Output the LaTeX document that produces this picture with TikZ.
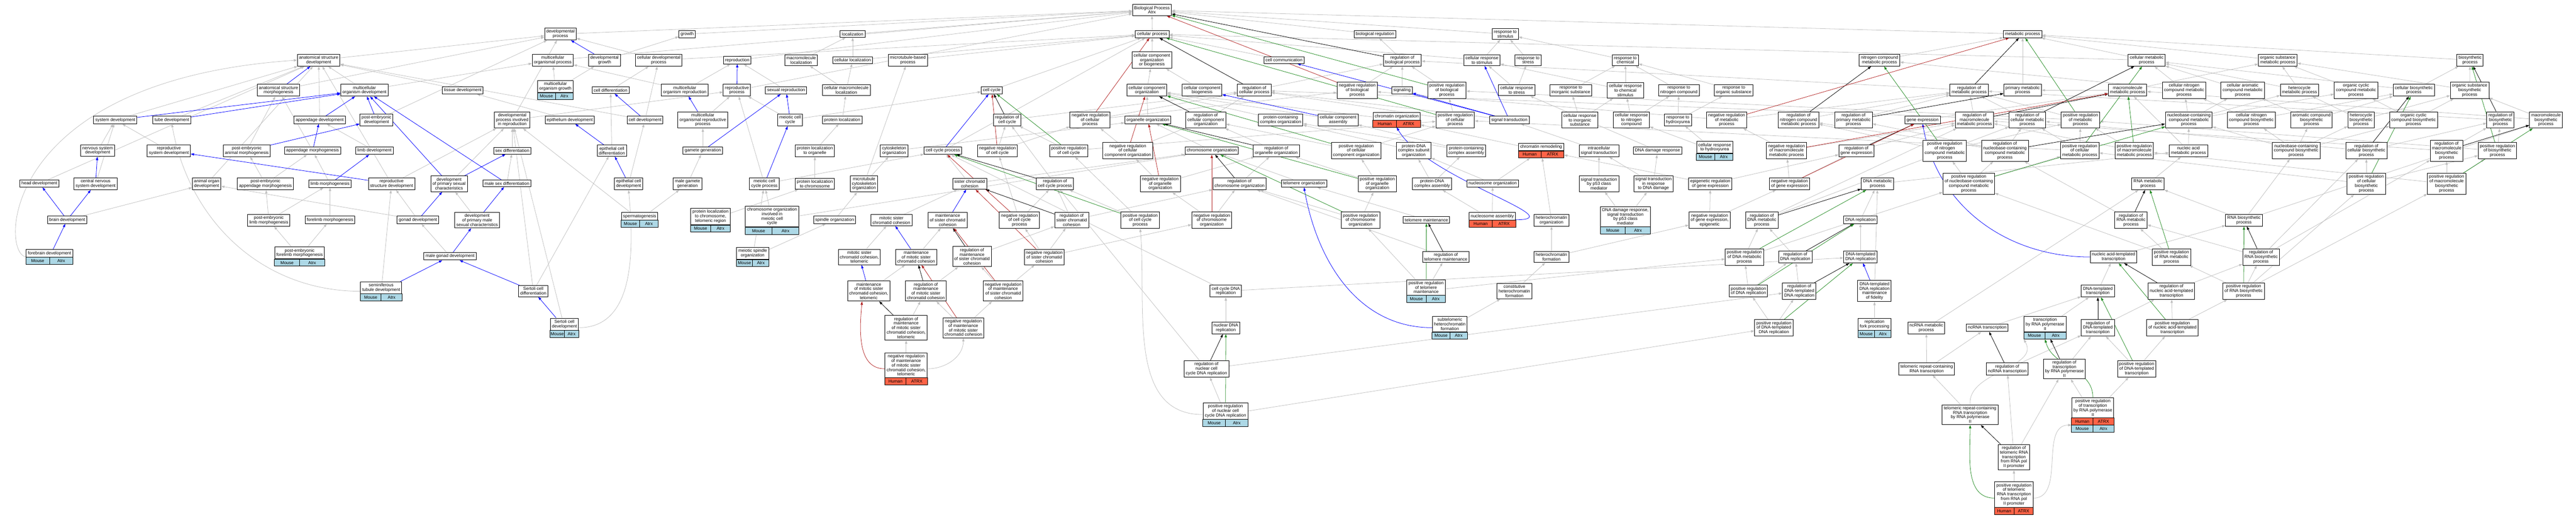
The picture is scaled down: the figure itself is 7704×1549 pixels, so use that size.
\documentclass[tikz,border=0pt]{standalone}
\usepackage{fontspec}
\setmainfont{Liberation Sans}
\usetikzlibrary{arrows.meta,calc,fit}
\definecolor{isagray}{HTML}{C0C0C0}
\definecolor{negred}{HTML}{B22222}
\definecolor{posgreen}{HTML}{228B22}
\definecolor{mouseblue}{HTML}{ADD8E6}
\definecolor{humanred}{HTML}{FF6347}
\pgfdeclarelayer{edgelayer}
\pgfsetlayers{edgelayer,main}
\tikzset{
  myterm/.style={draw,line width=1.5pt,fill=white,align=center,inner xsep=5pt,inner ysep=5pt,font=\fontsize{13}{13.5}\selectfont},
  mygenes/.style={draw,line width=1.5pt},
  mygenetext/.style={font=\fontsize{13}{13.5}\selectfont,inner sep=0pt},
  myedge/.style={line width=1.2pt,-{Triangle[length=10pt,width=7pt]}},
  myisa/.style={myedge,color=isagray},
  mypart/.style={myedge,color=blue},
  myreg/.style={myedge,color=black},
  myneg/.style={myedge,color=negred},
  mypos/.style={myedge,color=posgreen}
}
% one row of the gene table under a term: node, row, colour, species, gene
\newcommand{\generow}[5]{%
  \draw[mygenes,fill=#3] ([yshift=-#2*21pt]#1-l.south west) rectangle ([yshift=-#2*21pt-21pt]#1-l.south);
  \draw[mygenes,fill=#3] ([yshift=-#2*21pt]#1-l.south) rectangle ([yshift=-#2*21pt-21pt]#1-l.south east);
  \node[mygenetext] at ($([yshift=-#2*21pt]#1-l.south west)!.5!([yshift=-#2*21pt-21pt]#1-l.south)$) {#4};
  \node[mygenetext] at ($([yshift=-#2*21pt]#1-l.south)!.5!([yshift=-#2*21pt-21pt]#1-l.south east)$) {#5};
  \coordinate (#1-end) at ([yshift=-#2*21pt-21pt]#1-l.south east);
}
\newcommand{\annotfit}[1]{\node[fit=(#1-l)(#1-end),inner sep=0pt] (#1) {};}

\begin{document}
\begin{tikzpicture}[x=1pt,y=-1pt]
\useasboundingbox (0,0) rectangle (7704,1549);

% top
\node[myterm] (bp) at (3445,30) {Biological Process\\Atrx};
\node[myterm] (devproc) at (1676,102) {developmental\\process};
\node[myterm] (growth) at (2055,102) {growth};
\node[myterm] (local) at (2550,102) {localization};
\node[myterm] (cellproc) at (3446,102) {cellular process};
\node[myterm] (bioreg) at (4112,102) {biological regulation};
\node[myterm] (respstim) at (4502,102) {response to\\stimulus};
\node[myterm] (metab) at (6049,102) {metabolic process};

% rank 180
\node[myterm] (asdev) at (953,180) {anatomical structure\\development};
\node[myterm] (mcop) at (1653,180) {multicellular\\organismal process};
\node[myterm] (devgrowth) at (1808,180) {developmental\\growth};
\node[myterm] (celldevproc) at (1970,180) {cellular developmental\\process};
\node[myterm] (repro) at (2205,180) {reproduction};
\node[myterm] (mmloc) at (2396,180) {macromolecule\\localization};
\node[myterm] (cellloc) at (2550,180) {cellular localization};
\node[myterm] (mtbp) at (2715,180) {microtubule-based\\process};
\node[myterm] (ccob) at (3445,180) {cellular component\\organization\\or biogenesis};
\node[myterm] (cellcomm) at (3840,180) {cell communication};
\node[myterm] (regbp) at (4194,180) {regulation of\\biological process};
\node[myterm] (cellrespstim) at (4432,180) {cellular response\\to stimulus};
\node[myterm] (respstress) at (4570,180) {response to\\stress};
\node[myterm] (respchem) at (4861,180) {response to\\chemical};
\node[myterm] (ncmp) at (5621,180) {nitrogen compound\\metabolic process};
\node[myterm] (cellmetab) at (6420,180) {cellular metabolic\\process};
\node[myterm] (osmp) at (6812,180) {organic substance\\metabolic process};
\node[myterm] (biosyn) at (7387,180) {biosynthetic\\process};

% rank 270
\node[myterm] (asmorph) at (833,270) {anatomical structure\\morphogenesis};
\node[myterm] (mcodev) at (1090,270) {multicellular\\organism development};
\node[myterm] (mcogrowth-l) at (1661,259) {multicellular\\organism growth};
\generow{mcogrowth}{0}{mouseblue}{Mouse}{Atrx}\annotfit{mcogrowth}
\node[myterm] (tissuedev) at (1384,270) {tissue development};
\node[myterm] (celldiff) at (1826,270) {cell differentiation};
\node[myterm] (mcorepro) at (2048,270) {multicellular\\organism reproduction};
\node[myterm] (reproproc) at (2204,270) {reproductive\\process};
\node[myterm] (sexrepro) at (2351,270) {sexual reproduction};
\node[myterm] (cmmloc) at (2531,270) {cellular macromolecule\\localization};
\node[myterm] (cellcycle) at (2966,270) {cell cycle};
\node[myterm] (cco) at (3430,270) {cellular component\\organization};
\node[myterm] (ccbio) at (3595,270) {cellular component\\biogenesis};
\node[myterm] (regcp) at (3751,270) {regulation of\\cellular process};
\node[myterm] (negregbp) at (4059,270) {negative regulation\\of biological\\process};
\node[myterm] (signaling) at (4193,270) {signaling};
\node[myterm] (posregbp) at (4327,270) {positive regulation\\of biological\\process};
\node[myterm] (cellrespstress) at (4536,270) {cellular response\\to stress};
\node[myterm] (respinorg) at (4698,270) {response to\\inorganic substance};
\node[myterm] (cellrespchem) at (4861,270) {cellular response\\to chemical\\stimulus};
\node[myterm] (respnitro) at (5021,270) {response to\\nitrogen compound};
\node[myterm] (resporg) at (5185,270) {response to\\organic substance};
\node[myterm] (regmetab) at (5889,270) {regulation of\\metabolic process};
\node[myterm] (primmetab) at (6049,270) {primary metabolic\\process};
\node[myterm] (mmmetab) at (6363,270) {macromolecule\\metabolic process};
\node[myterm] (cncmp) at (6532,270) {cellular nitrogen\\compound metabolic\\process};
\node[myterm] (cacmp) at (6707,270) {cellular aromatic\\compound metabolic\\process};
\node[myterm] (hetmetab) at (6877,270) {heterocycle\\metabolic process};
\node[myterm] (occmp) at (7046,270) {organic cyclic\\compound metabolic\\process};
\node[myterm] (cellbiosyn) at (7219,270) {cellular biosynthetic\\process};
\node[myterm] (osbiosyn) at (7386,270) {organic substance\\biosynthetic\\process};

% rank 359
\node[myterm] (sysdev) at (345,359) {system development};
\node[myterm] (tubedev) at (514,359) {tube development};
\node[myterm] (appdev) at (956,359) {appendage development};
\node[myterm] (pedev) at (1126,359) {post-embryonic\\development};
\node[myterm] (dpir) at (1532,359) {developmental\\process involved\\in reproduction};
\node[myterm] (epidev) at (1704,359) {epithelium development};
\node[myterm] (celldev) at (1929,359) {cell development};
\node[myterm] (mcrp) at (2102,359) {multicellular\\organismal reproductive\\process};
\node[myterm] (meicc) at (2363,359) {meiotic cell\\cycle};
\node[myterm] (protloc) at (2519,359) {protein localization};
\node[myterm] (regcc) at (3012,359) {regulation of\\cell cycle};
\node[myterm] (negregcp) at (3260,359) {negative regulation\\of cellular\\process};
\node[myterm] (orgorg) at (3433,359) {organelle organization};
\node[myterm] (regcco) at (3606,359) {regulation of\\cellular component\\organization};
\node[myterm] (pcco) at (3830,359) {protein-containing\\complex organization};
\node[myterm] (ccassem) at (4002,359) {cellular component\\assembly};
\node[myterm] (chromorg-l) at (4177,348) {chromatin organization};
\generow{chromorg}{0}{humanred}{Human}{ATRX}\annotfit{chromorg}
\node[myterm] (posregcp) at (4352,359) {positive regulation\\of cellular\\process};
\node[myterm] (sigtrans) at (4514,359) {signal transduction};
\node[myterm] (cellrespinorg) at (4725,359) {cellular response\\to inorganic\\substance};
\node[myterm] (cellrespnitro) at (4879,359) {cellular response\\to nitrogen\\compound};
\node[myterm] (resphu) at (5018,359) {response to\\hydroxyurea};
\node[myterm] (negregmetab) at (5164,359) {negative regulation\\of metabolic\\process};
\node[myterm] (regncmp) at (5379,359) {regulation of\\nitrogen compound\\metabolic process};
\node[myterm] (regprim) at (5543,359) {regulation of\\primary metabolic\\process};
\node[myterm] (geneexp) at (5750,359) {gene expression};
\node[myterm] (regmm) at (5905,359) {regulation of\\macromolecule\\metabolic process};
\node[myterm] (regcellmetab) at (6063,359) {regulation of\\cellular metabolic\\process};
\node[myterm] (posregmetab) at (6222,359) {positive regulation\\of metabolic\\process};
\node[myterm] (nbcmp) at (6546,359) {nucleobase-containing\\compound metabolic\\process};
\node[myterm] (cncbp) at (6733,359) {cellular nitrogen\\compound biosynthetic\\process};
\node[myterm] (acbp) at (6913,359) {aromatic compound\\biosynthetic\\process};
\node[myterm] (hetbiosyn) at (7061,359) {heterocycle\\biosynthetic\\process};
\node[myterm] (occbp) at (7218,359) {organic cyclic\\compound biosynthetic\\process};
\node[myterm] (regbiosyn) at (7478,359) {regulation of\\biosynthetic\\process};
\node[myterm] (mmbiosyn) at (7614,359) {macromolecule\\biosynthetic\\process};

% rank 451
\node[myterm] (nsdev) at (292,451) {nervous system\\development};
\node[myterm] (rsdev) at (505,451) {reproductive\\system development};
\node[myterm] (peamorph) at (738,451) {post-embryonic\\animal morphogenesis};
\node[myterm] (appmorph) at (935,451) {appendage morphogenesis};
\node[myterm] (limbdev) at (1120,451) {limb development};
\node[myterm] (sexdiff) at (1532,451) {sex differentiation};
\node[myterm] (epicelldiff) at (1830,451) {epithelial cell\\differentiation};
\node[myterm] (gamgen) at (2102,451) {gamete generation};
\node[myterm] (protlocorg) at (2437,451) {protein localization\\to organelle};
\node[myterm] (cytoorg) at (2674,451) {cytoskeleton\\organization};
\node[myterm] (ccproc) at (2820,451) {cell cycle process};
\node[myterm] (negregcc) at (2983,451) {negative regulation\\of cell cycle};
\node[myterm] (posregcc) at (3196,451) {positive regulation\\of cell cycle};
\node[myterm] (negregcco) at (3373,451) {negative regulation\\of cellular\\component organization};
\node[myterm] (chromoorg) at (3624,451) {chromosome organization};
\node[myterm] (regorgorg) at (3817,451) {regulation of\\organelle organization};
\node[myterm] (posregcco) at (4056,451) {positive regulation\\of cellular\\component organization};
\node[myterm] (pdnacso) at (4228,451) {protein-DNA\\complex subunit\\organization};
\node[myterm] (pcca) at (4385,451) {protein-containing\\complex assembly};
\node[myterm] (chromrem-l) at (4609,440) {chromatin remodeling};
\generow{chromrem}{0}{humanred}{Human}{ATRX}\annotfit{chromrem}
\node[myterm] (intrasig) at (4782,451) {intracellular\\signal transduction};
\node[myterm] (dnadamage) at (4957,451) {DNA damage response};
\node[myterm] (cellresphu-l) at (5128,441) {cellular response\\to hydroxyurea};
\generow{cellresphu}{0}{mouseblue}{Mouse}{Atrx}\annotfit{cellresphu}
\node[myterm] (negregmm) at (5343,451) {negative regulation\\of macromolecule\\metabolic process};
\node[myterm] (reggeneexp) at (5552,451) {regulation of\\gene expression};
\node[myterm] (posregncmp) at (5816,451) {positive regulation\\of nitrogen\\compound metabolic\\process};
\node[myterm] (regnbcmp) at (5996,451) {regulation of\\nucleobase-containing\\compound metabolic\\process};
\node[myterm] (posregcellmetab) at (6220,451) {positive regulation\\of cellular\\metabolic process};
\node[myterm] (posregmm) at (6383,451) {positive regulation\\of macromolecule\\metabolic process};
\node[myterm] (nametab) at (6545,451) {nucleic acid\\metabolic process};
\node[myterm] (nbcbp) at (6867,451) {nucleobase-containing\\compound biosynthetic\\process};
\node[myterm] (regcellbiosyn) at (7077,451) {regulation of\\cellular biosynthetic\\process};
\node[myterm] (regmmbiosyn) at (7317,451) {regulation of\\macromolecule\\biosynthetic\\process};
\node[myterm] (posregbiosyn) at (7469,451) {positive regulation\\of biosynthetic\\process};

% rank 550
\node[myterm] (headdev) at (118,549) {head development};
\node[myterm] (cnsdev) at (286,550) {central nervous\\system development};
\node[myterm] (aodev) at (618,550) {animal organ\\development};
\node[myterm] (peappmorph) at (794,550) {post-embryonic\\appendage morphogenesis};
\node[myterm] (limbmorph) at (987,550) {limb morphogenesis};
\node[myterm] (rstdev) at (1171,550) {reproductive\\structure development};
\node[myterm] (dpsc) at (1343,550) {development\\of primary sexual\\characteristics};
\node[myterm] (malesexdiff) at (1516,549) {male sex differentiation};
\node[myterm] (epicelldev) at (1880,550) {epithelial cell\\development};
\node[myterm] (malegamgen) at (2056,550) {male gamete\\generation};
\node[myterm] (meiccp) at (2286,550) {meiotic cell\\cycle process};
\node[myterm] (protlocchr) at (2437,550) {protein localization\\to chromosome};
\node[myterm] (mtcyto) at (2584,550) {microtubule\\cytoskeleton\\organization};
\node[myterm] (scc) at (2900,550) {sister chromatid\\cohesion};
\node[myterm] (regccp) at (3155,550) {regulation of\\cell cycle process};
\node[myterm] (negregorgorg) at (3470,550) {negative regulation\\of organelle\\organization};
\node[myterm] (regchromo) at (3707,550) {regulation of\\chromosome organization};
\node[myterm] (telorg) at (3900,549) {telomere organization};
\node[myterm] (posregorgorg) at (4119,550) {positive regulation\\of organelle\\organization};
\node[myterm] (pdnaca) at (4283,550) {protein-DNA\\complex assembly};
\node[myterm] (nucorg) at (4464,549) {nucleosome organization};
\node[myterm] (sigp53) at (4782,550) {signal transduction\\by p53 class\\mediator};
\node[myterm] (sigdna) at (4945,550) {signal transduction\\in response\\to DNA damage};
\node[myterm] (epireg) at (5115,550) {epigenetic regulation\\of gene expression};
\node[myterm] (negreggeneexp) at (5352,550) {negative regulation\\of gene expression};
\node[myterm] (dnametab) at (5615,550) {DNA metabolic\\process};
\node[myterm] (posregnbcmp) at (5888,550) {positive regulation\\of nucleobase-containing\\compound metabolic\\process};
\node[myterm] (rnametab) at (6424,550) {RNA metabolic\\process};
\node[myterm] (posregcellbiosyn) at (7077,550) {positive regulation\\of cellular\\biosynthetic\\process};
\node[myterm] (posregmmbiosyn) at (7317,550) {positive regulation\\of macromolecule\\biosynthetic\\process};

% rank 659
\node[myterm] (braindev) at (201,658) {brain development};
\node[myterm] (pelimbmorph) at (804,659) {post-embryonic\\limb morphogenesis};
\node[myterm] (forelimbmorph) at (987,658) {forelimb morphogenesis};
\node[myterm] (gonaddev) at (1250,658) {gonad development};
\node[myterm] (dpmsc) at (1427,659) {development\\of primary male\\sexual characteristics};
\node[myterm] (spermato-l) at (1913,647) {spermatogenesis};
\generow{spermato}{0}{mouseblue}{Mouse}{Atrx}\annotfit{spermato}
\node[myterm] (plctr-l) at (2125,648) {protein localization\\to chromosome,\\telomeric region};
\generow{plctr}{0}{mouseblue}{Mouse}{Atrx}\annotfit{plctr}
\node[myterm] (coimcc-l) at (2309,648) {chromosome organization\\involved in\\meiotic cell\\cycle};
\generow{coimcc}{0}{mouseblue}{Mouse}{Atrx}\annotfit{coimcc}
\node[myterm] (spindleorg) at (2496,658) {spindle organization};
\node[myterm] (msccoh) at (2666,659) {mitotic sister\\chromatid cohesion};
\node[myterm] (mainscc) at (2834,659) {maintenance\\of sister chromatid\\cohesion};
\node[myterm] (negregccp) at (3049,659) {negative regulation\\of cell cycle\\process};
\node[myterm] (regscc) at (3205,659) {regulation of\\sister chromatid\\cohesion};
\node[myterm] (posregccp) at (3410,659) {positive regulation\\of cell cycle\\process};
\node[myterm] (negregchromo) at (3624,659) {negative regulation\\of chromosome\\organization};
\node[myterm] (posregchromo) at (4069,659) {positive regulation\\of chromosome\\organization};
\node[myterm] (telmaint) at (4266,658) {telomere maintenance};
\node[myterm] (nucassem-l) at (4463,647) {nucleosome assembly};
\generow{nucassem}{0}{humanred}{Human}{ATRX}\annotfit{nucassem}
\node[myterm] (hetorg) at (4640,659) {heterochromatin\\organization};
\node[myterm] (dnap53-l) at (4861,648) {DNA damage response,\\signal transduction\\by p53 class\\mediator};
\generow{dnap53}{0}{mouseblue}{Mouse}{Atrx}\annotfit{dnap53}
\node[myterm] (negregepi) at (5113,659) {negative regulation\\of gene expression,\\epigenetic};
\node[myterm] (regdnametab) at (5269,659) {regulation of\\DNA metabolic\\process};
\node[myterm] (dnarep) at (5564,658) {DNA replication};
\node[myterm] (regrnametab) at (6373,659) {regulation of\\RNA metabolic\\process};
\node[myterm] (rnabiosyn) at (6711,659) {RNA biosynthetic\\process};

% rank 769
\node[myterm] (forebrain-l) at (148,758) {forebrain development};
\generow{forebrain}{0}{mouseblue}{Mouse}{Atrx}\annotfit{forebrain}
\node[myterm] (peforelimb-l) at (896,757) {post-embryonic\\forelimb morphogenesis};
\generow{peforelimb}{0}{mouseblue}{Mouse}{Atrx}\annotfit{peforelimb}
\node[myterm] (malegonad) at (1346,767) {male gonad development};
\node[myterm] (meispindle-l) at (2251,758) {meiotic spindle\\organization};
\generow{meispindle}{0}{mouseblue}{Mouse}{Atrx}\annotfit{meispindle}
\node[myterm] (mscctel) at (2570,769) {mitotic sister\\chromatid cohesion,\\telomeric};
\node[myterm] (mainmscc) at (2740,769) {maintenance\\of mitotic sister\\chromatid cohesion};
\node[myterm] (regmainscc) at (2907,768) {regulation of\\maintenance\\of sister chromatid\\cohesion};
\node[myterm] (negregscc) at (3123,769) {negative regulation\\of sister chromatid\\cohesion};
\node[myterm] (regtelmaint) at (4324,769) {regulation of\\telomere maintenance};
\node[myterm] (hetform) at (4640,769) {heterochromatin\\formation};
\node[myterm] (posregdnametab) at (5217,769) {positive regulation\\of DNA metabolic\\process};
\node[myterm] (regdnarep) at (5369,769) {regulation of\\DNA replication};
\node[myterm] (dnatdnarep) at (5564,769) {DNA-templated\\DNA replication};
\node[myterm] (natrans) at (6321,769) {nucleic acid-templated\\transcription};
\node[myterm] (posregrnametab) at (6494,769) {positive regulation\\of RNA metabolic\\process};
\node[myterm] (regrnabiosyn) at (6762,769) {regulation of\\RNA biosynthetic\\process};

% rank 871
\node[myterm] (semitub-l) at (1140,861) {seminiferous\\tubule development};
\generow{semitub}{0}{mouseblue}{Mouse}{Atrx}\annotfit{semitub}
\node[myterm] (sertdiff) at (1595,871) {Sertoli cell\\differentiation};
\node[myterm] (mainmscctel) at (2598,871) {maintenance\\of mitotic sister\\chromatid cohesion,\\telomeric};
\node[myterm] (regmainmscc) at (2769,871) {regulation of\\maintenance\\of mitotic sister\\chromatid cohesion};
\node[myterm] (negregmainscc) at (3000,871) {negative regulation\\of maintenance\\of sister chromatid\\cohesion};
\node[myterm] (ccdnarep) at (3666,871) {cell cycle DNA\\replication};
\node[myterm] (posregtelmaint-l) at (4265,860) {positive regulation\\of telomere\\maintenance};
\generow{posregtelmaint}{0}{mouseblue}{Mouse}{Atrx}\annotfit{posregtelmaint}
\node[myterm] (consthet) at (4529,871) {constitutive\\heterochromatin\\formation};
\node[myterm] (posregdnarep) at (5229,871) {positive regulation\\of DNA replication};
\node[myterm] (regdnatdnarep) at (5381,871) {regulation of\\DNA-templated\\DNA replication};
\node[myterm] (fidelity) at (5606,871) {DNA-templated\\DNA replication\\maintenance\\of fidelity};
\node[myterm] (dnattrans) at (6274,871) {DNA-templated\\transcription};
\node[myterm] (regnatrans) at (6494,871) {regulation of\\nucleic acid-templated\\transcription};
\node[myterm] (posregrnabiosyn) at (6710,871) {positive regulation\\of RNA biosynthetic\\process};

% rank 981
\node[myterm] (sertdev-l) at (1688,970) {Sertoli cell\\development};
\generow{sertdev}{0}{mouseblue}{Mouse}{Atrx}\annotfit{sertdev}
\node[myterm] (regmainmscctel) at (2710,981) {regulation of\\maintenance\\of mitotic sister\\chromatid cohesion,\\telomeric};
\node[myterm] (negregmainmscc) at (2881,981) {negative regulation\\of maintenance\\of mitotic sister\\chromatid cohesion};
\node[myterm] (nucdnarep) at (3666,981) {nuclear DNA\\replication};
\node[myterm] (subtelhet-l) at (4336,970) {subtelomeric\\heterochromatin\\formation};
\generow{subtelhet}{0}{mouseblue}{Mouse}{Atrx}\annotfit{subtelhet}
\node[myterm] (posregdnatdnarep) at (5305,981) {positive regulation\\of DNA-templated\\DNA replication};
\node[myterm] (forkproc-l) at (5606,970) {replication\\fork processing};
\generow{forkproc}{0}{mouseblue}{Mouse}{Atrx}\annotfit{forkproc}
\node[myterm] (ncrnametab) at (5761,981) {ncRNA metabolic\\process};
\node[myterm] (ncrnatrans) at (5943,981) {ncRNA transcription};
\node[myterm] (rnapol2-l) at (6116,970) {transcription\\by RNA polymerase\\II};
\generow{rnapol2}{0}{mouseblue}{Mouse}{Atrx}\annotfit{rnapol2}
\node[myterm] (regdnattrans) at (6274,981) {regulation of\\DNA-templated\\transcription};
\node[myterm] (posregnatrans) at (6497,981) {positive regulation\\of nucleic acid-templated\\transcription};

% rank 1104
\node[myterm] (negregmainmscctel-l) at (2710,1093) {negative regulation\\of maintenance\\of mitotic sister\\chromatid cohesion,\\telomeric};
\generow{negregmainmscctel}{0}{humanred}{Human}{ATRX}\annotfit{negregmainmscctel}
\node[myterm] (regnucccdnarep) at (3608,1104) {regulation of\\nuclear cell\\cycle DNA replication};
\node[myterm] (terratrans) at (5762,1104) {telomeric repeat-containing\\RNA transcription};
\node[myterm] (regncrnatrans) at (6003,1104) {regulation of\\ncRNA transcription};
\node[myterm] (regrnapol2) at (6174,1104) {regulation of\\transcription\\by RNA polymerase\\II};
\node[myterm] (posregdnattrans) at (6390,1104) {positive regulation\\of DNA-templated\\transcription};

% bottom ranks
\node[myterm] (posregnucccdnarep-l) at (3665,1230) {positive regulation\\of nuclear cell\\cycle DNA replication};
\generow{posregnucccdnarep}{0}{mouseblue}{Mouse}{Atrx}\annotfit{posregnucccdnarep}
\node[myterm] (terrapol2) at (5892,1241) {telomeric repeat-containing\\RNA transcription\\by RNA polymerase\\II};
\node[myterm] (posregrnapol2-l) at (6259,1220) {positive regulation\\of transcription\\by RNA polymerase\\II};
\generow{posregrnapol2}{0}{humanred}{Human}{ATRX}
\generow{posregrnapol2}{1}{mouseblue}{Mouse}{Atrx}\annotfit{posregrnapol2}
\node[myterm] (regterra) at (6023,1368) {regulation of\\telomeric RNA\\transcription\\from RNA pol\\II promoter};
\node[myterm] (posregterra-l) at (6023,1480) {positive regulation\\of telomeric\\RNA transcription\\from RNA pol\\II promoter};
\generow{posregterra}{0}{humanred}{Human}{ATRX}\annotfit{posregterra}

\begin{pgfonlayer}{edgelayer}
% is a
\foreach \src/\dst in {devproc/bp,growth/bp,local/bp,cellproc/bp,bioreg/bp,respstim/bp,metab/bp,
  mcop/bp,devgrowth/growth,celldevproc/devproc,celldevproc/cellproc,repro/bp,mmloc/local,cellloc/local,
  cellloc/cellproc,mtbp/cellproc,ccob/cellproc,cellcomm/cellproc,regbp/bioreg,cellrespstim/respstim,
  cellrespstim/cellproc,respstress/respstim,respchem/respstim,ncmp/metab,cellmetab/metab,cellmetab/cellproc,
  osmp/metab,biosyn/metab,asdev/devproc,
  asmorph/devproc,mcodev/asdev,mcodev/mcop,mcogrowth/mcop,mcogrowth/devgrowth,tissuedev/asdev,
  celldiff/celldevproc,mcorepro/mcop,mcorepro/repro,reproproc/bp,sexrepro/repro,cmmloc/mmloc,cmmloc/cellloc,
  cellcycle/cellproc,cco/ccob,ccbio/ccob,regcp/regbp,negregbp/regbp,signaling/regbp,posregbp/regbp,
  cellrespstress/respstress,cellrespstress/cellrespstim,respinorg/respchem,cellrespchem/respchem,
  cellrespchem/cellrespstim,respnitro/respchem,resporg/respchem,regmetab/regbp,primmetab/metab,
  mmmetab/primmetab,mmmetab/osmp,cncmp/ncmp,cncmp/cellmetab,cacmp/cellmetab,hetmetab/cellmetab,
  hetmetab/osmp,occmp/osmp,cellbiosyn/biosyn,cellbiosyn/cellmetab,osbiosyn/biosyn,osbiosyn/osmp,
  sysdev/asdev,tubedev/asdev,appdev/asdev,pedev/devproc,dpir/devproc,dpir/reproproc,epidev/tissuedev,
  celldev/celldevproc,celldev/asdev,mcrp/reproproc,meicc/reproproc,meicc/cellcycle,protloc/cmmloc,
  regcc/regcp,negregcp/regcp,negregcp/negregbp,orgorg/cco,regcco/regcp,pcco/cco,ccassem/cco,chromorg/cco,
  posregcp/posregbp,posregcp/regcp,sigtrans/regcp,cellrespinorg/respinorg,cellrespinorg/cellrespchem,
  cellrespnitro/cellrespchem,cellrespnitro/respnitro,resphu/respnitro,resphu/resporg,negregmetab/regmetab,
  negregmetab/negregbp,regncmp/regmetab,regprim/regmetab,geneexp/mmmetab,regmm/regmetab,
  regcellmetab/regmetab,regcellmetab/regcp,posregmetab/regmetab,posregmetab/posregbp,nbcmp/cncmp,
  nbcmp/cacmp,nbcmp/hetmetab,nbcmp/occmp,cncbp/cncmp,cncbp/cellbiosyn,acbp/cacmp,acbp/cellbiosyn,
  hetbiosyn/hetmetab,hetbiosyn/osbiosyn,occbp/occmp,occbp/osbiosyn,regbiosyn/regmetab,mmbiosyn/osbiosyn,
  mmbiosyn/mmmetab,
  nsdev/sysdev,rsdev/sysdev,peamorph/asmorph,appmorph/asmorph,limbdev/appdev,sexdiff/dpir,
  epicelldiff/celldiff,gamgen/mcrp,protlocorg/protloc,cytoorg/orgorg,ccproc/cellproc,negregcc/regcc,
  negregcc/negregcp,posregcc/regcc,posregcc/posregcp,negregcco/regcco,negregcco/negregcp,chromoorg/orgorg,
  regorgorg/regcco,posregcco/regcco,posregcco/posregcp,pdnacso/pcco,pcca/ccassem,pcca/pcco,chromrem/chromorg,
  intrasig/sigtrans,dnadamage/cellrespstress,cellresphu/resphu,cellresphu/cellrespnitro,negregmm/regmm,
  negregmm/negregmetab,reggeneexp/regmm,posregncmp/regncmp,posregncmp/posregmetab,regnbcmp/regcellmetab,
  regnbcmp/regncmp,regnbcmp/regprim,posregcellmetab/regcellmetab,posregcellmetab/posregmetab,
  posregcellmetab/posregcp,posregmm/regmm,posregmm/posregmetab,nametab/nbcmp,nametab/mmmetab,nbcbp/nbcmp,
  nbcbp/cncbp,nbcbp/acbp,nbcbp/hetbiosyn,nbcbp/occbp,regcellbiosyn/regbiosyn,regcellbiosyn/regcellmetab,
  regmmbiosyn/regbiosyn,regmmbiosyn/regmm,posregbiosyn/regbiosyn,posregbiosyn/posregmetab,
  headdev/asdev,cnsdev/sysdev,aodev/asdev,peappmorph/peamorph,peappmorph/appmorph,limbmorph/appmorph,
  rstdev/asdev,rstdev/dpir,dpsc/dpir,malesexdiff/sexdiff,epicelldev/celldev,malegamgen/gamgen,meiccp/ccproc,
  meiccp/reproproc,protlocchr/protlocorg,mtcyto/cytoorg,mtcyto/mtbp,scc/ccproc,scc/chromoorg,regccp/regcc,
  negregorgorg/regorgorg,negregorgorg/negregcco,regchromo/regorgorg,telorg/chromoorg,posregorgorg/regorgorg,
  posregorgorg/posregcco,pdnaca/pdnacso,pdnaca/pcca,nucorg/pdnacso,nucorg/chromrem,sigp53/intrasig,
  sigdna/intrasig,sigdna/dnadamage,epireg/reggeneexp,epireg/chromrem,negreggeneexp/reggeneexp,
  negreggeneexp/negregmm,dnametab/nametab,posregnbcmp/regnbcmp,posregnbcmp/posregncmp,
  posregnbcmp/posregcellmetab,rnametab/nametab,posregcellbiosyn/regcellbiosyn,posregcellbiosyn/posregbiosyn,
  posregcellbiosyn/posregcellmetab,posregmmbiosyn/regmmbiosyn,posregmmbiosyn/posregbiosyn,
  posregmmbiosyn/posregmm,
  braindev/aodev,pelimbmorph/peappmorph,pelimbmorph/limbmorph,forelimbmorph/limbmorph,gonaddev/aodev,
  gonaddev/rstdev,dpmsc/dpsc,spermato/malegamgen,spermato/dpir,plctr/protlocchr,coimcc/meiccp,
  coimcc/chromoorg,spindleorg/mtcyto,msccoh/scc,negregccp/regccp,negregccp/negregcc,regscc/regccp,
  regscc/regchromo,posregccp/regccp,posregccp/posregcc,negregchromo/regchromo,negregchromo/negregorgorg,
  posregchromo/regchromo,posregchromo/posregorgorg,telmaint/telorg,nucassem/nucorg,nucassem/pdnaca,
  hetorg/chromrem,dnap53/sigp53,dnap53/sigdna,negregepi/epireg,negregepi/negreggeneexp,
  regdnametab/regcellmetab,regdnametab/regmm,dnarep/dnametab,regrnametab/regnbcmp,rnabiosyn/rnametab,
  rnabiosyn/nbcbp,rnabiosyn/mmbiosyn,
  peforelimb/pelimbmorph,peforelimb/forelimbmorph,malegonad/gonaddev,meispindle/spindleorg,
  meispindle/meiccp,mscctel/msccoh,mainmscc/mainscc,regmainscc/regscc,negregscc/regscc,negregscc/negregccp,
  negregscc/negregchromo,regtelmaint/regchromo,hetform/hetorg,hetform/negregepi,posregdnametab/regdnametab,
  posregdnametab/posregnbcmp,regdnarep/regdnametab,dnatdnarep/dnarep,natrans/rnabiosyn,
  posregrnametab/regrnametab,posregrnametab/posregnbcmp,regrnabiosyn/regrnametab,
  regrnabiosyn/regcellbiosyn,regrnabiosyn/regmmbiosyn,
  semitub/rstdev,sertdiff/epicelldiff,sertdiff/dpir,mainmscctel/mainmscc,
  regmainmscc/regmainscc,negregmainscc/regmainscc,negregmainscc/negregscc,ccdnarep/dnatdnarep,
  ccdnarep/ccproc,posregtelmaint/regtelmaint,posregtelmaint/posregchromo,posregtelmaint/posregdnametab,
  consthet/hetform,posregdnarep/regdnarep,posregdnarep/posregdnametab,regdnatdnarep/regdnarep,
  fidelity/dnametab,dnattrans/natrans,regnatrans/regrnabiosyn,posregrnabiosyn/regrnabiosyn,
  posregrnabiosyn/posregrnametab,posregrnabiosyn/posregcellbiosyn,posregrnabiosyn/posregmmbiosyn,
  sertdev/dpir,subtelhet/consthet,regmainmscctel/regmainmscc,negregmainmscc/regmainmscc,
  negregmainmscc/negregmainscc,nucdnarep/ccdnarep,posregdnatdnarep/regdnatdnarep,
  posregdnatdnarep/posregdnarep,forkproc/fidelity,ncrnametab/rnametab,ncrnatrans/dnattrans,
  rnapol2/dnattrans,regdnattrans/regnatrans,posregnatrans/regnatrans,posregnatrans/posregrnabiosyn,
  negregmainmscctel/regmainmscctel,regnucccdnarep/regdnatdnarep,
  regnucccdnarep/regccp,terratrans/ncrnametab,terratrans/ncrnatrans,regncrnatrans/regdnattrans,
  regrnapol2/regdnattrans,posregdnattrans/regdnattrans,posregdnattrans/posregnatrans,
  posregnucccdnarep/regnucccdnarep,posregnucccdnarep/posregdnatdnarep,
  posregrnapol2/regrnapol2,posregrnapol2/posregdnattrans,terrapol2/terratrans,
  regterra/regncrnatrans,regterra/regrnapol2,posregterra/regterra}
  \draw[myisa] (\src) -- (\dst);
% long is a links that swing round the others
\draw[myisa] (forebrain.west) .. controls (0,758) and (0,240) .. (asdev.west);
\draw[myisa] (semitub.west) to[out=180,in=-80] (tubedev.south);
\draw[myisa] (sertdev.east) to[out=0,in=-85] (epicelldev.south);
\draw[myisa] (negregmainmscctel.east) to[out=0,in=-90] (negregmainmscc.south);
\draw[myisa] (posregnucccdnarep.west) to[out=180,in=-85] (posregccp.south);
\draw[myisa] (terrapol2.north) to[out=95,in=-60] (rnapol2.south west);
\draw[myisa] (posregterra.east) to[out=0,in=180] ([yshift=-31pt]posregrnapol2.west);

% part of
\foreach \src/\dst in {asmorph/asdev,devgrowth/devproc,reproproc/repro,sysdev/mcodev,tubedev/mcodev,
  appdev/mcodev,pedev/mcodev,celldev/celldiff,mcrp/mcorepro,meicc/sexrepro,ccassem/ccbio,
  sigtrans/cellrespstim,sigtrans/signaling,sigtrans/cellcomm,peamorph/pedev,appmorph/appdev,
  epicelldiff/epidev,gamgen/sexrepro,ccproc/cellcycle,cnsdev/nsdev,limbmorph/limbdev,rstdev/rsdev,
  dpsc/sexdiff,dpsc/mcodev,malesexdiff/mcodev,epicelldev/epicelldiff,meiccp/meicc,braindev/headdev,
  braindev/cnsdev,gonaddev/dpsc,dpmsc/malesexdiff,mainscc/scc,forebrain/braindev,malegonad/dpmsc,
  mainmscc/msccoh,semitub/malegonad,sertdiff/malegonad,mainmscctel/mscctel,sertdev/sertdiff,
  fidelity/dnatdnarep}
  \draw[mypart] (\src) -- (\dst);
\draw[mypart] (subtelhet.west) to[out=180,in=-80] (telorg.south);
\draw[mypart] (nucassem.east) to[out=0,in=-60] (chromorg.south);
\draw[mypart] (natrans.west) to[out=180,in=-80] (geneexp.south);

% regulates
\foreach \src/\dst in {regbp/bp,regcp/cellproc,regcc/cellcycle,regcco/cco,regmetab/metab,regncmp/ncmp,
  regprim/primmetab,regmm/mmmetab,regcellmetab/cellmetab,regbiosyn/biosyn,regorgorg/orgorg,
  reggeneexp/geneexp,regnbcmp/nbcmp,regcellbiosyn/cellbiosyn,regmmbiosyn/mmbiosyn,regccp/ccproc,
  regchromo/chromoorg,regscc/scc,regdnametab/dnametab,regrnametab/rnametab,regmainscc/mainscc,
  regtelmaint/telmaint,regdnarep/dnarep,regmainmscc/mainmscc,regdnatdnarep/dnatdnarep,regnatrans/natrans,
  regrnabiosyn/rnabiosyn,regmainmscctel/mainmscctel,regdnattrans/dnattrans,regnucccdnarep/nucdnarep,
  regncrnatrans/ncrnatrans,regrnapol2/rnapol2,regterra/terrapol2}
  \draw[myreg] (\src) -- (\dst);

% negatively regulates
\foreach \src/\dst in {negregbp/bp,negregcp/cellproc,negregcc/cellcycle,negregcco/cco,negregmetab/metab,
  negregmm/mmmetab,negregorgorg/orgorg,negregccp/ccproc,negregchromo/chromoorg,negreggeneexp/geneexp,
  negregscc/scc,negregmainscc/mainscc,negregmainmscc/mainmscc}
  \draw[myneg] (\src) -- (\dst);
\draw[myneg] (negregmainmscctel.west) to[out=180,in=-95] ([xshift=-20pt]mainmscctel.south);

% positively regulates
\foreach \src/\dst in {posregbp/bp,posregcp/cellproc,posregcc/cellcycle,posregcco/cco,posregmetab/metab,
  posregncmp/ncmp,posregcellmetab/cellmetab,posregmm/mmmetab,posregbiosyn/biosyn,posregorgorg/orgorg,
  posregnbcmp/nbcmp,posregccp/ccproc,posregchromo/chromoorg,posregcellbiosyn/cellbiosyn,
  posregmmbiosyn/mmbiosyn,posregdnametab/dnametab,posregrnametab/rnametab,posregtelmaint/telmaint,
  posregdnarep/dnarep,posregrnabiosyn/rnabiosyn,posregdnatdnarep/dnatdnarep,posregnatrans/natrans,
  posregdnattrans/dnattrans,posregnucccdnarep/nucdnarep}
  \draw[mypos] (\src) -- (\dst);
\draw[mypos] (posregterra.west) to[out=180,in=-90] (terrapol2.south);
\draw[mypos] (posregrnapol2.north) to[out=90,in=-75] (rnapol2.south);
\end{pgfonlayer}
\end{tikzpicture}
\end{document}
